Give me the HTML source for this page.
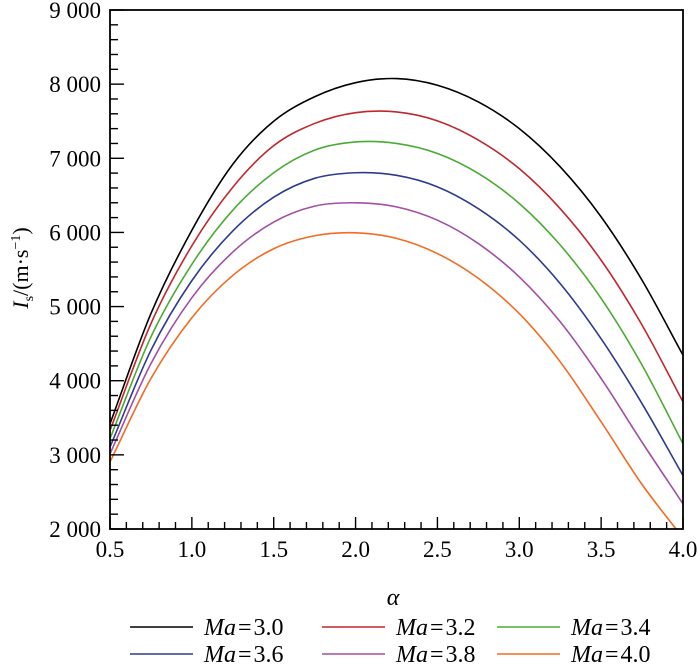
<!DOCTYPE html>
<html><head><meta charset="utf-8"><style>
body{margin:0;background:#fff;}
svg, svg text{font-family:"Liberation Serif","DejaVu Serif","Noto Serif CJK SC","Times New Roman",serif;}
svg{display:block;}
</style></head><body>
<svg id="chart" width="700" height="665" viewBox="0 0 700 665" xmlns="http://www.w3.org/2000/svg">
<g id="plot"></g>
<g id="axes"></g>
<text x="393" y="605" font-size="24" font-style="italic" text-anchor="middle">α</text>
<text transform="translate(28,268) rotate(-90)" font-size="22" text-anchor="middle"><tspan font-style="italic">I</tspan><tspan font-size="14" dy="5">s</tspan><tspan dy="-5">/(m·s</tspan><tspan font-size="14" dy="-8">−1</tspan><tspan dy="8">)</tspan></text>
<g id="legend"></g>
</svg>
<script>
const xVals=[0.5,0.75,1.0,1.25,1.5,1.75,2.0,2.25,2.5,2.75,3.0,3.25,3.5,3.75,4.0];
const seriesNames=["Ma=3.0","Ma=3.2","Ma=3.4","Ma=3.6","Ma=3.8","Ma=4.0"];
const seriesColors=["#000000","#c0272d","#4aab33","#2e3a8f","#a24ea3","#f26b21"];
const ma30=[3420,4905,6030,6920,7500,7830,8020,8075,7985,7760,7400,6885,6210,5355,4345];
const ma32=[3330,4770,5820,6610,7170,7470,7615,7625,7505,7245,6860,6320,5625,4750,3715];
const ma34=[3220,4590,5570,6300,6805,7110,7220,7200,7065,6795,6390,5830,5110,4210,3150];
const ma36=[3105,4410,5350,6020,6475,6730,6805,6770,6615,6320,5895,5310,4565,3690,2720];
const ma38=[3015,4230,5120,5735,6140,6355,6400,6345,6165,5850,5400,4795,4030,3170,2340];
const ma40=[2905,4030,4850,5420,5780,5955,5995,5920,5715,5380,4905,4255,3445,2600,1880];
const xTicks=["0.5","1.0","1.5","2.0","2.5","3.0","3.5","4.0"];
const yTicks=["2 000","3 000","4 000","5 000","6 000","7 000","8 000","9 000"];
const allSeries=[ma30,ma32,ma34,ma36,ma38,ma40];

const L=110,R=683,T=10,B=529;
const xMin=0.5,xMax=4.0,yMin=2000,yMax=9000;
function xs(v){return L+(v-xMin)/(xMax-xMin)*(R-L);}
function ys(v){return B-(v-yMin)/(yMax-yMin)*(B-T);}
const NS="http://www.w3.org/2000/svg";
function mk(tag,attrs,parent){const e=document.createElementNS(NS,tag);for(const k in attrs)e.setAttribute(k,attrs[k]);parent.appendChild(e);return e;}

const plot=document.getElementById('plot');
const defs=mk('defs',{},plot);
const cp=mk('clipPath',{id:'clip'},defs);
mk('rect',{x:L,y:T,width:R-L,height:B-T},cp);

function pathFor(vals){
  const p=xVals.map((x,i)=>[xs(x),ys(vals[i])]);
  let d="M"+p[0][0].toFixed(2)+","+p[0][1].toFixed(2);
  for(let i=0;i<p.length-1;i++){
    const p0=i>0?p[i-1]:[2*p[0][0]-p[1][0],2*p[0][1]-p[1][1]];
    const p1=p[i],p2=p[i+1];
    const p3=i+2<p.length?p[i+2]:[2*p[i+1][0]-p[i][0],2*p[i+1][1]-p[i][1]];
    const c1=[p1[0]+(p2[0]-p0[0])/6,p1[1]+(p2[1]-p0[1])/6];
    const c2=[p2[0]-(p3[0]-p1[0])/6,p2[1]-(p3[1]-p1[1])/6];
    d+=" C"+c1[0].toFixed(2)+","+c1[1].toFixed(2)+" "+c2[0].toFixed(2)+","+c2[1].toFixed(2)+" "+p2[0].toFixed(2)+","+p2[1].toFixed(2);
  }
  return d;
}
allSeries.forEach((s,i)=>{
  const el=mk('path',{d:pathFor(s),fill:'none',stroke:seriesColors[i],'stroke-width':1.6,'clip-path':'url(#clip)'},plot);
  
  
});

const axes=document.getElementById('axes');
const frame=mk('rect',{x:L,y:T,width:R-L,height:B-T,fill:'none',stroke:'#000','stroke-width':1.8},axes);


for(let k=0;k<=35;k++){
  const v=0.5+k*0.1;const x=xs(v);const major=k%5===0;
  mk('line',{x1:x,y1:B,x2:x,y2:B-(major?12:7),stroke:'#000','stroke-width':1.4},axes);
}
xTicks.forEach(t=>{
  const el=mk('text',{x:xs(parseFloat(t)),y:557,'font-size':23,'text-anchor':'middle'},axes);
  el.textContent=t;
  
  
});
for(let k=0;k<=35;k++){
  const v=2000+k*200;const y=ys(v);const major=k%5===0;
  mk('line',{x1:L,y1:y,x2:L+(major?14:8),y2:y,stroke:'#000','stroke-width':1.4},axes);
}
yTicks.forEach(t=>{
  const v=parseFloat(t.replace(' ',''));
  const el=mk('text',{x:101,y:ys(v)+8,'font-size':23,'text-anchor':'end'},axes);
  el.textContent=t;
  
  
});
const leg=document.getElementById('legend');
const lx=[130,322,497],ly=[635,662];
seriesNames.forEach((n,i)=>{
  const x=lx[i%3],y=ly[Math.floor(i/3)];
  const g=mk('g',{},leg);
  
  
  mk('line',{x1:x,y1:y-8,x2:x+63,y2:y-8,stroke:seriesColors[i],'stroke-width':1.6},g);
  const t=mk('text',{x:x+74,y:y,'font-size':24},g);
  const parts=n.split('=');
  const a=mk('tspan',{'font-style':'italic'},t);a.textContent=parts[0];
  const b=mk('tspan',{dx:2},t);b.textContent='=';
  const c=mk('tspan',{dx:2},t);c.textContent=parts[1];
});
</script>
</body></html>
